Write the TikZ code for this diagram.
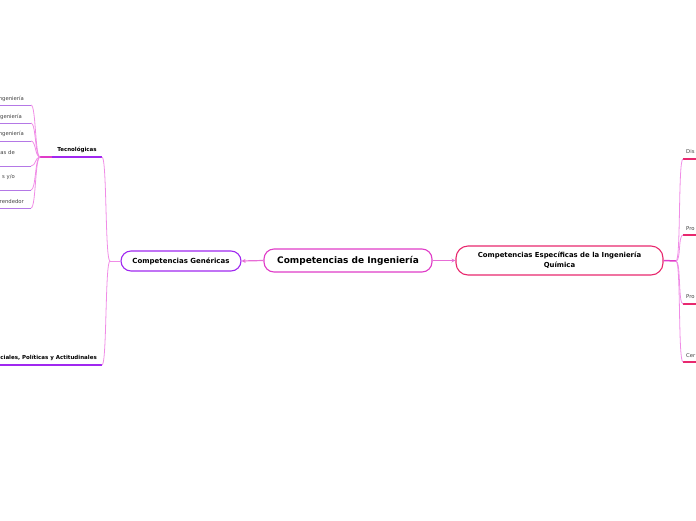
\documentclass[tikz,border=0pt]{standalone}
\usepackage{fontspec}
\setmainfont{DejaVu Sans}
\usetikzlibrary{arrows.meta,positioning}
\definecolor{magen}{HTML}{E03CC8}
\definecolor{viol}{HTML}{A028F0}
\definecolor{crim}{HTML}{E8286E}
\definecolor{rosa}{HTML}{F08CE6}
\definecolor{lila}{HTML}{B478E6}
\begin{document}
\begin{tikzpicture}[x=1pt,y=-1pt,>={Stealth[length=4pt,width=4pt]},
  box/.style={draw,rounded corners=10pt,line width=1.1pt,fill=white,align=center,inner sep=2pt},
  leaf/.style={font=\fontsize{5.3}{6}\selectfont,text=black!75,inner sep=0pt,anchor=east},
  sub/.style={font=\fontsize{5.5}{6.5}\selectfont\bfseries,inner sep=0pt},
  link/.style={rosa,line width=0.8pt}]
\useasboundingbox (0,0) rectangle (696,520);
\node[box,draw=magen,minimum width=168pt,minimum height=23pt,
  font=\fontsize{9}{11}\selectfont\bfseries] (main) at (348,260.5) {Competencias de Ingeniería};
\node[box,draw=viol,minimum width=120pt,minimum height=20pt,
  font=\fontsize{7}{9}\selectfont\bfseries] (gen) at (181,261) {Competencias Genéricas};
\node[box,draw=crim,rounded corners=12pt,minimum width=207pt,minimum height=29pt,
  font=\fontsize{6.9}{10}\selectfont\bfseries] (esp) at (559.5,260.5) {Competencias Específicas de la Ingeniería\\Química};
\draw[->,magen!75,line width=1.2pt] (main.west) -- (gen.east);
\draw[->,magen!75,line width=1.2pt] (main.east) -- (esp.west);
% rama izquierda
\coordinate (genJ) at (110,261);
\node[sub] (tec) at (77,150) {Tecnológicas};
\coordinate (tecL) at (40,157);\coordinate (tecR) at (102,157);
\draw[viol,line width=1.2pt] (tecL) -- (tecR);\draw[magen,line width=1.2pt] (tecL) -- ++(12,0);
\node[sub,anchor=east] (soc) at (97,358) {ciales, Políticas y Actitudinales};
\coordinate (socR) at (102,365);
\draw[viol,line width=1.2pt] (socR) -- ++(-105,0);
\draw[link] (gen.west) -- (genJ);
\draw[link] (genJ) .. controls (105,261) and (107,157) .. (tecR);
\draw[link] (genJ) .. controls (105,261) and (107,365) .. (socR);
\foreach \y/\u/\e/\t [count=\i] in {99/105/24/ngeniería,117/123/22/geniería,134/141/24/ngeniería,
  153/166/15/cas de,177/190/15/{s y/o},202/208/24/rendedor}{
  \node[leaf] (hoja\i) at (\e,\y) {\t};
  \coordinate (hojaR\i) at (31,\u);
  \draw[lila,line width=0.8pt] (hojaR\i) -- ++(-34,0);
  \draw[link] (hojaR\i) .. controls (36,\u) and (35,157) .. (tecL);
}
% rama derecha
\coordinate (espJ) at (676,261);
\draw[magen,line width=1.5pt] (esp.east) -- (espJ);
\foreach \y/\u/\t [count=\i] in {152/159/Dis,229/235/Pro,297/304/Pro,356/362/Cer}{
  \node[leaf,anchor=west] (der\i) at (686,\y) {\t};
  \coordinate (derL\i) at (683,\u);
  \draw[crim,line width=1.2pt] (derL\i) -- ++(16,0);
  \draw[link] (espJ) .. controls (681,261) and (678,\u) .. (derL\i);
}
\end{tikzpicture}
\end{document}
